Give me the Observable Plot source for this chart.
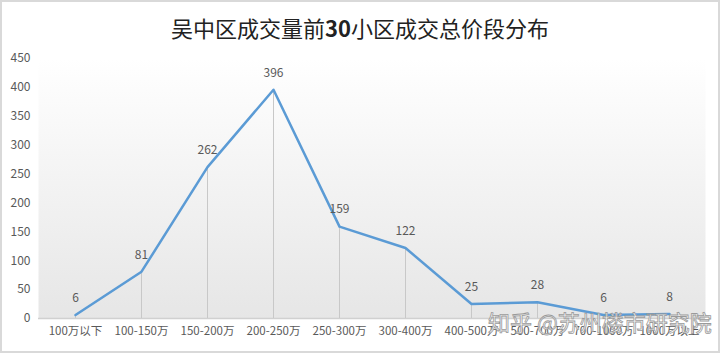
<!DOCTYPE html>
<html>
<head>
<meta charset="utf-8">
<script src="https://cdn.jsdelivr.net/npm/d3@7"></script>
<script src="https://cdn.jsdelivr.net/npm/@observablehq/plot@0.6"></script>
<style>
  body { margin: 0; background: #fff; }
  #wrap { position: relative; width: 720px; height: 353px; box-sizing: border-box; border: 2px solid #d9d9d9; background: #fff; overflow: hidden; }
  #title { height: 42px; line-height: 50px; text-align: center; font-family: "Noto Sans CJK SC", sans-serif; font-size: 22px; color: #222; }
  #title b { font-weight: 700; }
  #wm { position: absolute; left: 486px; top: 303px; font-family: "Noto Sans CJK SC", sans-serif; font-size: 22px; color: rgba(255,255,255,0.85); -webkit-text-stroke: 0.8px #9a9a9a; }
  svg text { font-family: "Noto Sans CJK SC", "Liberation Sans", sans-serif; }
</style>
</head>
<body>
<div id="wrap">
  <div id="title">吴中区成交量前<b>30</b>小区成交总价段分布</div>
  <div id="chart"></div>
  <div id="wm">知乎 @苏州楼市研究院</div>
</div>
<script>
const categories = ["100万以下","100-150万","150-200万","200-250万","250-300万","300-400万","400-500万","500-700万","700-1000万","1000万以上"];
const values = [6, 81, 262, 396, 159, 122, 25, 28, 6, 8];
const yTicks = [0, 50, 100, 150, 200, 250, 300, 350, 400, 450];

const data = categories.map((c, i) => ({cat: c, v: values[i]}));

const chart = Plot.plot({
  width: 716,
  height: 304,
  marginLeft: 36,
  marginRight: 13,
  marginTop: 14,
  marginBottom: 30,
  style: {fontSize: "12px", color: "#595959", background: "transparent"},
  x: {type: "point", domain: categories, padding: 0.5, label: null},
  y: {domain: [0, 450], ticks: yTicks, label: null},
  marks: [
    Plot.frame({fill: "url(#plotGrad)", stroke: null}),
    Plot.axisY({ticks: yTicks, tickSize: 0, tickPadding: 8, fontSize: 12, fill: "#595959"}),
    Plot.axisX({tickSize: 0, tickPadding: 8, fontSize: 11.5, fill: "#595959"}),
    Plot.ruleY([0], {stroke: "#d0d0d0", strokeWidth: 1.5}),
    Plot.ruleX(data, {x: "cat", y1: 0, y2: "v", stroke: "#c8c8c8", strokeWidth: 1}),
    Plot.line(data, {x: "cat", y: "v", stroke: "#5b9bd5", strokeWidth: 2.5, curve: "linear"}),
    Plot.text(data, {x: "cat", y: "v", text: d => String(d.v), dy: -17, fontSize: 12, fill: "#595959"})
  ]
});

const defs = d3.select(chart).insert("defs", ":first-child");
const g = defs.append("linearGradient").attr("id", "plotGrad").attr("x1", 0).attr("y1", 0).attr("x2", 0).attr("y2", 1);
g.append("stop").attr("offset", "0%").attr("stop-color", "#ffffff");
g.append("stop").attr("offset", "100%").attr("stop-color", "#e6e6e6");

document.getElementById("chart").appendChild(chart);
</script>
</body>
</html>
